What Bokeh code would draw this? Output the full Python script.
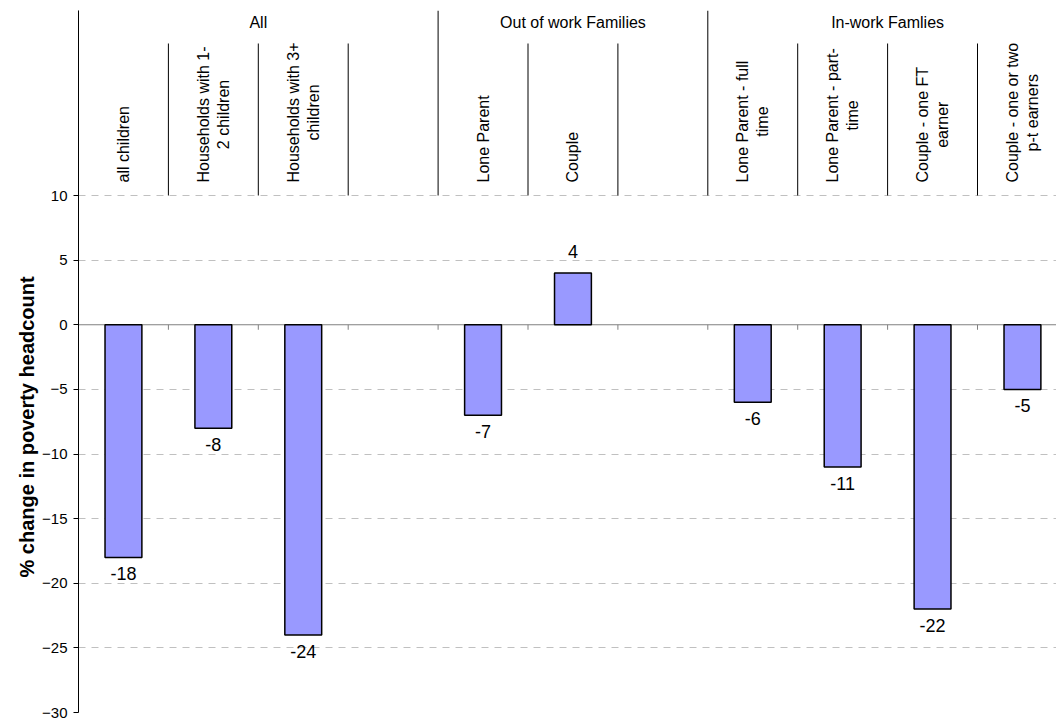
import math
from bokeh.plotting import figure
from bokeh.models import ColumnDataSource, Range1d, FixedTicker, Title
from bokeh.core.properties import value
from bokeh.embed import file_html
from bokeh.resources import INLINE

# ---------------- data ----------------
categories = [
    "all children",
    "Households with 1-\n2 children",
    "Households with 3+\nchildren",
    "",
    "Lone Parent",
    "Couple",
    "",
    "Lone Parent - full\ntime",
    "Lone Parent - part-\ntime",
    "Couple - one FT\nearner",
    "Couple - one or two\np-t earners",
]
values = [-18, -8, -24, None, -7, 4, None, -6, -11, -22, -5]
groups = ["All", "Out of work Families", "In-work Famlies"]
group_sizes = [4, 3, 4]
y_ticks = [-30, -25, -20, -15, -10, -5, 0, 5, 10]
y_title = "% change in poverty headcount"

FONT = "Liberation Sans"
W, H = 1056, 720
LEFT, TOP, BOTTOM = 78, 10, 8
SLOT_PX = 89.9
frame_w = W - LEFT
frame_h = H - TOP - BOTTOM
ppu = 517.0 / 40.0             # pixels per y unit
y_top = 10 + (195 - TOP) / ppu  # data value at top of frame
y_bot = y_top - frame_h / ppu

# Arial / Liberation Sans advance widths (per 1000 em)
CW = {' ': 278, '-': 333, '+': 584, 'a': 556, 'b': 556, 'c': 500, 'd': 556, 'e': 556,
      'f': 278, 'g': 556, 'h': 556, 'i': 222, 'j': 222, 'k': 500, 'l': 222, 'm': 833,
      'n': 556, 'o': 556, 'p': 556, 'q': 556, 'r': 333, 's': 500, 't': 278, 'u': 556,
      'v': 500, 'w': 722, 'x': 500, 'y': 500, 'z': 500, 'A': 667, 'C': 722, 'E': 667,
      'F': 611, 'H': 722, 'L': 556, 'P': 667, 'T': 611}


def text_px(s, size):
    return sum(CW.get(ch, 556) for ch in s) * size / 1000.0


p = figure(width=W, height=H, output_backend="svg", toolbar_location=None,
           x_range=Range1d(-0.5, -0.5 + frame_w / SLOT_PX),
           y_range=Range1d(y_bot, y_top),
           min_border_left=LEFT, min_border_right=0, min_border_top=TOP,
           min_border_bottom=BOTTOM, x_axis_location=None)
p.outline_line_color = None
p.background_fill_color = "white"
p.border_fill_color = "white"

# y axis title (left side, shifted toward lower part as in the reference)
p.add_layout(Title(text=y_title, align="left", offset=135, text_font=FONT,
                   text_font_size="20px", text_font_style="bold", text_color="black",
                   standoff=4), "left")

# y axis
yax = p.yaxis[0]
yax.ticker = FixedTicker(ticks=y_ticks)
yax.major_tick_out = 5
yax.major_tick_in = 0
yax.minor_tick_line_color = None
yax.axis_line_color = "black"
yax.major_tick_line_color = "black"
yax.major_label_text_font = FONT
yax.major_label_text_font_size = "15px"
yax.major_label_text_color = "black"
yax.major_label_standoff = 6

p.xgrid.visible = False
p.ygrid.ticker = FixedTicker(ticks=[t for t in y_ticks if t != 0])
p.ygrid.grid_line_color = "#c0c0c0"
p.ygrid.grid_line_dash = "7 6"
p.ygrid.grid_line_width = 1

n = len(categories)
xs = list(range(n))

# zero line with tick marks at slot boundaries
p.segment(x0=[-0.5], y0=[0], x1=[-0.5 + frame_w / SLOT_PX], y1=[0], line_color="#808080", line_width=1.2)
bounds = [i + 0.5 for i in range(n - 1)]
p.segment(x0=bounds, y0=[0] * len(bounds), x1=bounds, y1=[-5 / ppu] * len(bounds),
          line_color="#808080", line_width=1)

# bars
bx = [x for x, v in zip(xs, values) if v is not None]
bv = [v for v in values if v is not None]
src = ColumnDataSource(dict(x=bx, top=bv, lab=[str(v) for v in bv]))
p.vbar(x="x", top="top", bottom=0, width=0.41, source=src,
       fill_color="#9999FF", line_color="black", line_width=1.5)

# data labels
neg = [(x, v) for x, v in zip(bx, bv) if v < 0]
pos = [(x, v) for x, v in zip(bx, bv) if v >= 0]
p.text(x=[a for a, _ in neg], y=[v - 10 / ppu for _, v in neg], text=[str(v) for _, v in neg],
       text_align="center", text_baseline="top", text_font=value(FONT),
       text_font_size="18px", text_color="black")
p.text(x=[a for a, _ in pos], y=[v + 15 / ppu for _, v in pos], text=[str(v) for _, v in pos],
       text_align="center", text_baseline="bottom", text_font=value(FONT),
       text_font_size="18px", text_color="black")

# header: group separator lines and category separator lines
g_edges = [-0.5]
for s in group_sizes:
    g_edges.append(g_edges[-1] + s)
p.segment(x0=g_edges, y0=[10] * len(g_edges), x1=g_edges, y1=[y_top] * len(g_edges),
          line_color="black", line_width=1)
sub_top = 10 + (195 - 43) / ppu
sub = [b for b in bounds if b not in g_edges]
p.segment(x0=sub, y0=[10] * len(sub), x1=sub, y1=[sub_top] * len(sub),
          line_color="black", line_width=1)

# group labels
g_cent = [(g_edges[i] + g_edges[i + 1]) / 2 for i in range(len(groups))]
p.text(x=g_cent, y=[10 + (195 - 22) / ppu] * len(groups), text=groups,
       text_align="center", text_baseline="middle", text_font=value(FONT),
       text_font_size="16px", text_color="black")

# category labels (rotated)
CAT_SIZE = 16
lab_bottom = 10 + (195 - 182) / ppu
cx, cy, ct = [], [], []
for x, c in zip(xs, categories):
    if not c:
        continue
    L = max(text_px(line, CAT_SIZE) for line in c.split("\n"))
    cx.append(x)
    cy.append(lab_bottom + (L / 2) / ppu)
    ct.append(c)
p.text(x=cx, y=cy, text=ct, angle=math.pi / 2, text_align="center", text_baseline="middle",
       text_font=value(FONT), text_font_size=f"{CAT_SIZE}px", text_color="black",
       text_line_height=1.15)

open("out.html", "w").write(file_html(p, INLINE))
